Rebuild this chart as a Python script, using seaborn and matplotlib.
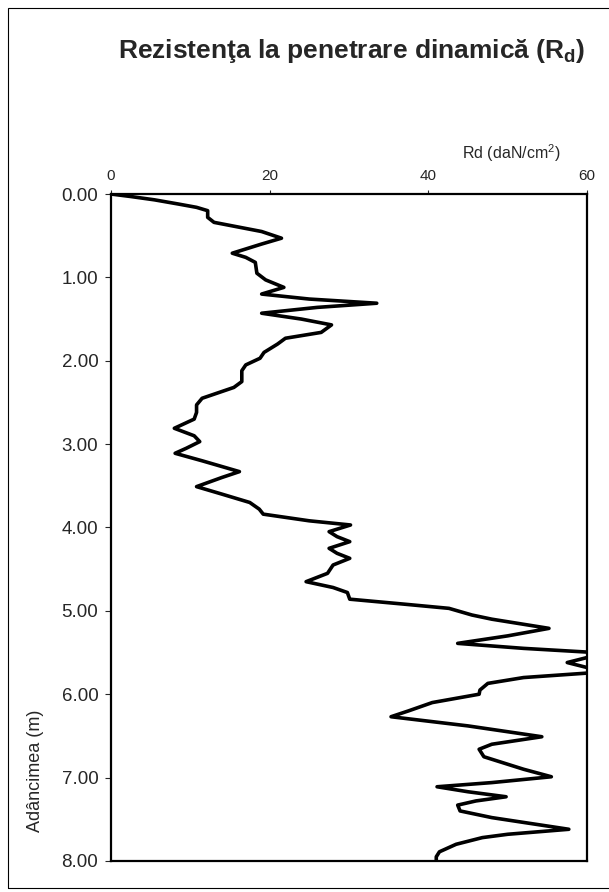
import pandas as pd
import matplotlib.pyplot as plt
import seaborn as sns
from matplotlib.patches import Rectangle

# depth (m) and dynamic penetration resistance Rd (daN/cm2)
depth = [0.00, 0.03, 0.07, 0.12, 0.16, 0.20, 0.28, 0.34, 0.45, 0.53, 0.60,
         0.71, 0.76, 0.82, 0.95, 1.03, 1.12, 1.20, 1.26, 1.31, 1.36,
         1.43, 1.50, 1.57, 1.66, 1.73, 1.80, 1.90, 1.97, 2.05, 2.12,
         2.25, 2.32, 2.45, 2.53, 2.62, 2.70, 2.81, 2.90, 2.97, 3.05,
         3.11, 3.20, 3.33, 3.40, 3.51, 3.60, 3.70, 3.78, 3.84, 3.92,
         3.97, 4.05, 4.11, 4.17, 4.25, 4.31, 4.37, 4.45, 4.55, 4.65,
         4.72, 4.78, 4.86, 4.92, 4.97, 5.05, 5.10, 5.21, 5.30, 5.39,
         5.45, 5.50, 5.56, 5.62, 5.68, 5.74, 5.80, 5.87, 5.95, 6.00,
         6.10, 6.20, 6.27, 6.38, 6.51, 6.60, 6.66, 6.75, 6.90, 6.99,
         7.06, 7.11, 7.17, 7.23, 7.28, 7.33, 7.40, 7.48, 7.62, 7.68,
         7.72, 7.80, 7.89, 7.95, 8.02]
rd = [0, 2.5, 5.5, 8.5, 10.8, 12.2, 12.2, 13, 19, 21.5, 19,
      15.3, 17, 18.2, 18.4, 19.5, 21.8, 19, 25, 33.5, 26,
      19, 24, 27.8, 26.5, 22, 21, 19.3, 18.8, 17, 16.5,
      16.5, 15.5, 11.5, 10.8, 10.8, 10.5, 8.0, 10.5, 11.2, 9.5,
      8.1, 11.5, 16.2, 14, 10.8, 14, 17.5, 18.7, 19.2, 25,
      30.2, 27.5, 28.5, 30.1, 27.5, 28.5, 30.1, 28, 27.3, 24.6,
      28, 29.8, 30.1, 37, 42.6, 45.5, 48, 55.2, 50, 43.7,
      52, 61, 60, 57.5, 60, 61, 52, 47.5, 46.5, 46.4,
      40.5, 37.5, 35.3, 45, 54.3, 48, 46.4, 47, 52, 55.5,
      48, 41.1, 45, 49.8, 46, 43.7, 44, 48, 57.7, 50,
      46.8, 43.5, 41.4, 41, 41]

x_ticks = [0, 20, 40, 60]
y_ticks = [0, 1, 2, 3, 4, 5, 6, 7, 8]

df = pd.DataFrame({"depth": depth, "rd": rd})

sns.set_style("white")
plt.rcParams["font.family"] = ["Liberation Sans", "DejaVu Sans"]

fig = plt.figure(figsize=(6.09, 8.92), dpi=100)
ax = fig.add_axes([0.182, 0.0348, 0.782, 0.7477])

sns.lineplot(data=df, x="rd", y="depth", sort=False, orient="y",
             color="black", linewidth=2.6, ax=ax, estimator=None)
for ln in ax.get_lines():
    ln.set_solid_joinstyle("round")
    ln.set_solid_capstyle("round")

ax.set_xlim(0, 60)
ax.set_ylim(8, 0)
ax.xaxis.tick_top()
ax.set_xticks(x_ticks)
ax.set_xticklabels([str(v) for v in x_ticks], fontsize=11)
ax.set_yticks(y_ticks)
ax.set_yticklabels([f"{v:.2f}" for v in y_ticks], fontsize=13.5)
ax.tick_params(axis="x", direction="out", length=3, width=0.8, pad=5, top=True, bottom=False)
ax.tick_params(axis="y", direction="out", length=4, width=0.8, pad=5, left=True)
for s in ax.spines.values():
    s.set_color("black")
    s.set_linewidth(1.6)

ax.set_xlabel("")
ax.set_ylabel("Adâncimea (m)", fontsize=13)
ax.yaxis.set_label_coords(-0.14, 0.135)
ax.text(0.84, 1.062, "Rd (daN/cm$^\\mathregular{2}$)", transform=ax.transAxes,
        ha="center", va="center", fontsize=11.5)

fig.text(0.577, 0.943, "Rezistenţa la penetrare dinamică (R$_\\mathregular{d}$)",
         ha="center", va="center", fontsize=19, fontweight="bold")

# thin outer frame of the scanned page
fig.patches.append(Rectangle((8 / 609, 4 / 892), 1.2, 880 / 892,
                             transform=fig.transFigure, fill=False,
                             edgecolor="black", linewidth=0.8))

fig.savefig("out.png", dpi=100)
